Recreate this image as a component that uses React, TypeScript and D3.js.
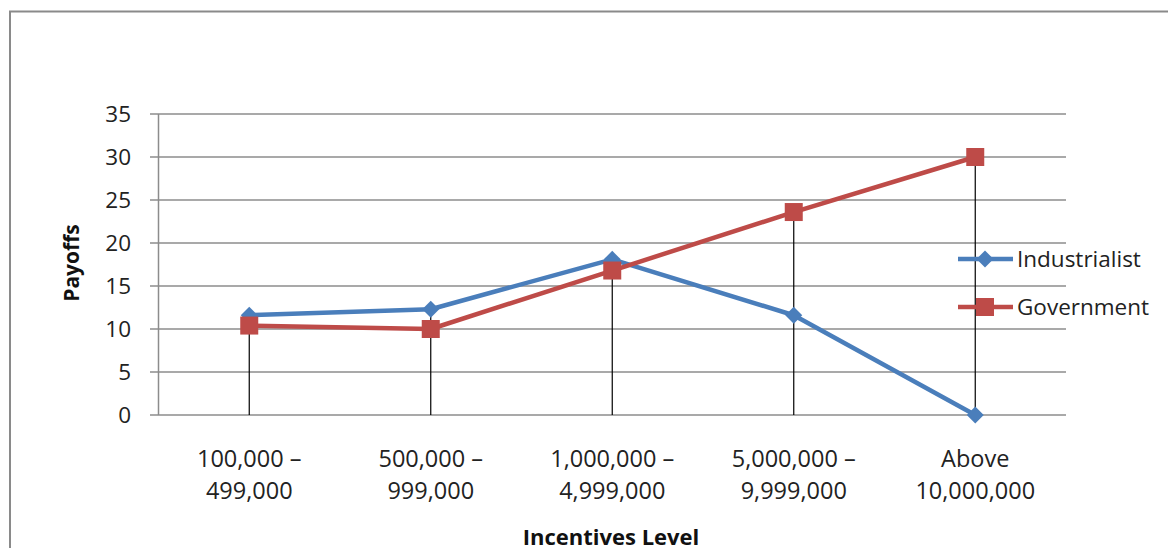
import React from "react";
import * as d3 from "d3";

const categories: string[][] = [
  ["100,000 –", "499,000"],
  ["500,000 –", "999,000"],
  ["1,000,000 –", "4,999,000"],
  ["5,000,000 –", "9,999,000"],
  ["Above", "10,000,000"],
];
const industrialist = [11.6, 12.3, 18.1, 11.6, 0];
const government = [10.4, 10.0, 16.8, 23.6, 30.0];
const yTicks = [0, 5, 10, 15, 20, 25, 30, 35];

const W = 1168;
const H = 548;
const FONT = "'Open Sans', 'DejaVu Sans', sans-serif";
const BLUE = "#4A7EBB";
const RED = "#BE4B48";
const GRID = "#8c8c8c";

export default function App() {
  const left = 158.5;
  const right = 1066;
  const top = 114;
  const bottom = 415;

  const x = d3
    .scaleBand<number>()
    .domain(categories.map((_, i) => i))
    .range([left, right]);
  const cx = (i: number) => (x(i) as number) + x.bandwidth() / 2;
  const y = d3.scaleLinear().domain([0, 35]).range([bottom, top]);

  const line = d3
    .line<number>()
    .x((_, i) => cx(i))
    .y((d) => y(d));

  const diamond = (px: number, py: number, r: number) =>
    `M${px},${py - r}L${px + r},${py}L${px},${py + r}L${px - r},${py}Z`;

  const legendX = 958;
  const legendItems = [
    { name: "Industrialist", color: BLUE, kind: "diamond", y: 259 },
    { name: "Government", color: RED, kind: "square", y: 307 },
  ];

  return (
    <svg
      width={W}
      height={H}
      style={{ position: "absolute", left: 0, top: 0, background: "#fff" }}
      fontFamily={FONT}
    >
      {/* outer frame */}
      <path d={`M10,${H}V11.5H${W}`} fill="none" stroke="#8a8a8a" strokeWidth={2} />

      {/* gridlines and y ticks */}
      {yTicks.map((t) => (
        <g key={t}>
          <line x1={150} x2={right} y1={y(t)} y2={y(t)} stroke={GRID} strokeWidth={1.5} />
          <text x={131} y={y(t)} dy="0.36em" fontSize={22.5} textAnchor="end" fill="#222">
            {t}
          </text>
        </g>
      ))}
      <line x1={left} x2={left} y1={top} y2={bottom} stroke={GRID} strokeWidth={1.5} />

      {/* drop lines */}
      {categories.map((_, i) => (
        <line
          key={i}
          x1={cx(i)}
          x2={cx(i)}
          y1={y(Math.max(industrialist[i], government[i]))}
          y2={y(0)}
          stroke="#000"
          strokeWidth={1.2}
        />
      ))}

      {/* series */}
      <path d={line(industrialist) as string} fill="none" stroke={BLUE} strokeWidth={4.5} strokeLinejoin="round" />
      {industrialist.map((v, i) => (
        <path key={i} d={diamond(cx(i), y(v), 8.5)} fill={BLUE} />
      ))}
      <path d={line(government) as string} fill="none" stroke={RED} strokeWidth={4.5} strokeLinejoin="round" />
      {government.map((v, i) => (
        <rect key={i} x={cx(i) - 9} y={y(v) - 9} width={18} height={18} fill={RED} />
      ))}

      {/* x labels */}
      {categories.map((c, i) => (
        <text key={i} x={cx(i)} textAnchor="middle" fontSize={23.5} fill="#222">
          <tspan x={cx(i)} y={467}>{c[0]}</tspan>
          <tspan x={cx(i)} y={499}>{c[1]}</tspan>
        </text>
      ))}

      {/* axis titles */}
      <text x={611} y={545} textAnchor="middle" fontSize={22} fontWeight="bold" fill="#111">
        Incentives Level
      </text>
      <text
        transform={`translate(79,263) rotate(-90)`}
        textAnchor="middle"
        fontSize={21}
        fontWeight="bold"
        fill="#111"
      >
        Payoffs
      </text>

      {/* legend */}
      {legendItems.map((it) => (
        <g key={it.name}>
          <line x1={legendX} x2={legendX + 55} y1={it.y} y2={it.y} stroke={it.color} strokeWidth={4.5} />
          {it.kind === "diamond" ? (
            <path d={diamond(legendX + 27, it.y, 8.5)} fill={it.color} />
          ) : (
            <rect x={legendX + 18} y={it.y - 9} width={18} height={18} fill={it.color} />
          )}
          <text x={1017} y={it.y} dy="0.36em" fontSize={22.5} fill="#222">
            {it.name}
          </text>
        </g>
      ))}
    </svg>
  );
}
